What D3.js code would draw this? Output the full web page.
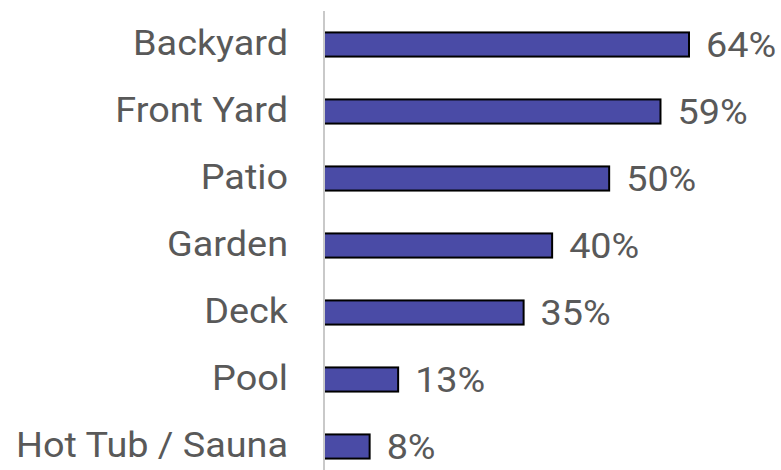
<!DOCTYPE html>
<html>
<head>
<meta charset="utf-8">
<script src="https://cdn.jsdelivr.net/npm/d3@7"></script>
<style>
  body { margin: 0; background: #fff; }
  text { font-family: Roboto, "Noto Sans", sans-serif; fill: #595959; }
</style>
</head>
<body>
<svg id="chart" width="781" height="470"></svg>
<script>
const categories = ["Backyard", "Front Yard", "Patio", "Garden", "Deck", "Pool", "Hot Tub / Sauna"];
const values = [64, 59, 50, 40, 35, 13, 8];

const svg = d3.select("#chart");
const x0 = 324;
const stretch = 1.08; // text in the source is drawn a bit wide

const x = d3.scaleLinear()
    .domain([0, 64])
    .range([x0, 689]);

const y = d3.scaleBand()
    .domain(categories)
    .range([11, 480])
    .paddingInner(0.64)
    .paddingOuter(0.32);

const data = categories.map((c, i) => ({ cat: c, val: values[i] }));

svg.append("g")
    .selectAll("rect")
    .data(data)
    .enter().append("rect")
    .attr("x", x0)
    .attr("y", d => y(d.cat))
    .attr("width", d => x(d.val) - x0)
    .attr("height", y.bandwidth())
    .attr("fill", "#4a4ba6")
    .attr("stroke", "#000")
    .attr("stroke-width", 2);

// vertical axis line
svg.append("line")
    .attr("x1", x0).attr("x2", x0)
    .attr("y1", 11).attr("y2", 470)
    .attr("stroke", "#c9c9c9")
    .attr("stroke-width", 2);

svg.append("g")
    .selectAll("text")
    .data(data)
    .enter().append("text")
    .attr("transform", d => `translate(288,${y(d.cat) + y.bandwidth() / 2}) scale(${stretch},1)`)
    .attr("dy", "0.3em")
    .attr("text-anchor", "end")
    .attr("font-size", 35)
    .text(d => d.cat);

svg.append("g")
    .selectAll("text")
    .data(data)
    .enter().append("text")
    .attr("transform", d => `translate(${x(d.val) + 17},${y(d.cat) + y.bandwidth() / 2}) scale(${stretch},1)`)
    .attr("dy", "0.35em")
    .attr("font-size", 35)
    .text(d => d.val + "%");
</script>
</body>
</html>
